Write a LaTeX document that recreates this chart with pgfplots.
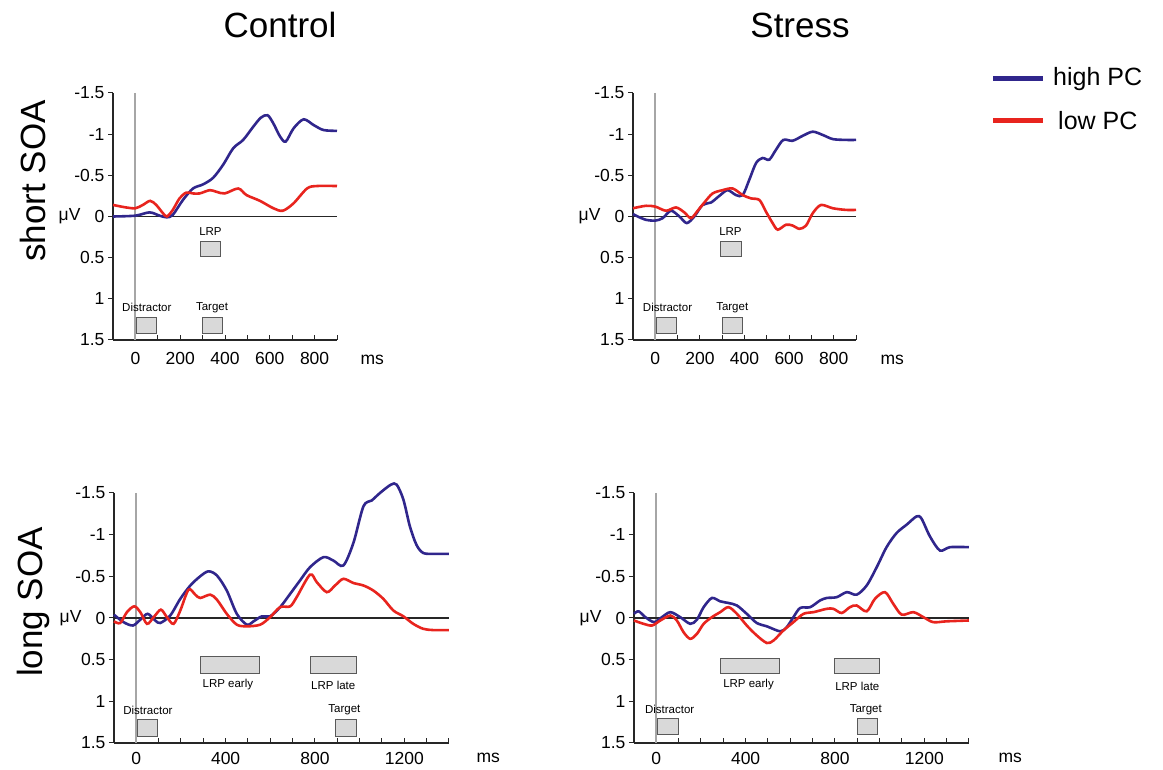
\documentclass[border=0pt]{standalone}
\usepackage{pgfplots}
\pgfplotsset{compat=1.18}
\usepackage{fontspec}
\setmainfont{Liberation Sans}
\definecolor{hiblue}{RGB}{48,38,140}
\definecolor{lored}{RGB}{232,36,30}
\tikzset{evbox/.style={draw=black!65, fill=black!15, line width=0.8pt},
  evlab/.style={font=\fontsize{11.5}{13}\selectfont, inner sep=0pt}}
\pgfplotsset{
  eeg/.style={
    scale only axis, y dir=reverse, ymin=-1.5, ymax=1.5, xmin=-100,
    axis x line*=bottom, axis y line*=left,
    ytick={-1.5,-1,-0.5,0,0.5,1,1.5},
    yticklabels={-1.5,-1,-0.5,0,0.5,1,1.5},
    xtick align=inside, ytick align=outside,
    major tick length=5pt,
    tick style={black!85, line width=1pt},
    axis line style={line width=1.2pt, black!85},
    tick label style={font=\fontsize{17.5}{20}\selectfont},
    anchor=origin, clip=false,
  },
  hi/.style={hiblue, line width=2.6pt, smooth, no markers},
  lo/.style={lored, line width=2.6pt, smooth, no markers},
}
\begin{document}
\begin{tikzpicture}
\useasboundingbox (0,0) rectangle (1163pt,770pt);
% titles
\node[font=\fontsize{35}{40}\selectfont] at (280pt,745pt) {Control};
\node[font=\fontsize{35}{40}\selectfont] at (800pt,745pt) {Stress};
\node[font=\fontsize{35}{40}\selectfont, rotate=90] at (33pt,589pt) {short SOA};
\node[font=\fontsize{35}{40}\selectfont, rotate=90] at (33pt,168pt) {long SOA};
% legend
\draw[hiblue, line width=5pt] (993pt,691pt) -- (1043pt,691pt);
\node[anchor=west, font=\fontsize{25}{28}\selectfont, inner sep=0pt] at (1053pt,691pt) {high PC};
\draw[lored, line width=5pt] (993pt,649pt) -- (1043pt,649pt);
\node[anchor=west, font=\fontsize{25}{28}\selectfont, inner sep=0pt] at (1058pt,649pt) {low PC};

% ---------- Control short SOA
\begin{axis}[eeg, at={(135.4pt,553.5pt)}, width=224pt, height=247pt, xmax=900,
  xtick={0,100,...,900}, xticklabels={0,,200,,400,,600,,800,},
  xticklabel style={yshift=-9pt}]
\draw[black!35, line width=2pt] (axis cs:0,-1.5) -- (axis cs:0,1.5);
\draw[black!85, line width=1.2pt] (axis cs:-100,0) -- (axis cs:900,0);
\draw[evbox] (axis cs:290,0.30) rectangle (axis cs:380,0.49);
\node[evlab] at (axis cs:335,0.18) {LRP};
\draw[evbox] (axis cs:3,1.23) rectangle (axis cs:93,1.42);
\node[evlab] at (axis cs:51,1.11) {Distractor};
\draw[evbox] (axis cs:300,1.23) rectangle (axis cs:390,1.42);
\node[evlab] at (axis cs:342,1.11) {Target};
\node[anchor=east, font=\fontsize{17.5}{20}\selectfont, xshift=-29pt] at (axis cs:-100,0) {μV};
\node[anchor=west, font=\fontsize{17.5}{20}\selectfont, xshift=20pt, yshift=-20pt] at (axis cs:900,1.5) {ms};
\addplot[hi] coordinates {(-100,0) (0,-0.01) (63,-0.05) (108,-0.01) (140,0.01) (167,-0.02) (212,-0.2) (257,-0.34) (302,-0.39) (347,-0.47) (392,-0.63) (437,-0.83) (481,-0.93) (526,-1.09) (560,-1.2) (590,-1.23) (616,-1.13) (646,-0.97) (671,-0.91) (706,-1.07) (751,-1.18) (796,-1.11) (840,-1.05) (900,-1.04)};
\addplot[lo] coordinates {(-100,-0.14) (-42,-0.11) (0,-0.10) (33,-0.14) (66,-0.19) (93,-0.14) (123,-0.04) (141,0) (167,-0.08) (197,-0.22) (227,-0.29) (257,-0.28) (287,-0.28) (332,-0.32) (362,-0.30) (399,-0.28) (459,-0.34) (496,-0.26) (556,-0.19) (616,-0.10) (658,-0.07) (706,-0.16) (766,-0.34) (810,-0.37) (900,-0.37)};
\end{axis}

% ---------- Stress short SOA
\begin{axis}[eeg, at={(655.3pt,553.5pt)}, width=223pt, height=247pt, xmax=900,
  xtick={0,100,...,900}, xticklabels={0,,200,,400,,600,,800,},
  xticklabel style={yshift=-9pt}]
\draw[black!35, line width=2pt] (axis cs:0,-1.5) -- (axis cs:0,1.5);
\draw[black!85, line width=1.2pt] (axis cs:-100,0) -- (axis cs:900,0);
\draw[evbox] (axis cs:290,0.30) rectangle (axis cs:384,0.49);
\node[evlab] at (axis cs:337,0.18) {LRP};
\draw[evbox] (axis cs:4,1.23) rectangle (axis cs:96,1.42);
\node[evlab] at (axis cs:55,1.11) {Distractor};
\draw[evbox] (axis cs:302,1.23) rectangle (axis cs:392,1.42);
\node[evlab] at (axis cs:345,1.11) {Target};
\node[anchor=east, font=\fontsize{17.5}{20}\selectfont, xshift=-29pt] at (axis cs:-100,0) {μV};
\node[anchor=west, font=\fontsize{17.5}{20}\selectfont, xshift=21pt, yshift=-20pt] at (axis cs:900,1.5) {ms};
\addplot[hi] coordinates {(-100,-0.03) (-79,0) (-42,0.04) (0,0.05) (33,0.02) (70,-0.07) (108,0) (141,0.08) (175,0) (212,-0.14) (250,-0.17) (287,-0.25) (324,-0.32) (362,-0.26) (392,-0.26) (422,-0.45) (452,-0.65) (481,-0.71) (511,-0.69) (541,-0.81) (574,-0.93) (616,-0.92) (661,-0.98) (706,-1.03) (751,-0.99) (796,-0.94) (855,-0.93) (900,-0.93)};
\addplot[lo] coordinates {(-100,-0.10) (-42,-0.13) (0,-0.12) (48,-0.07) (93,-0.11) (130,-0.05) (160,0.02) (190,-0.07) (220,-0.17) (257,-0.28) (302,-0.32) (347,-0.34) (392,-0.26) (429,-0.22) (467,-0.20) (496,-0.06) (526,0.08) (549,0.16) (586,0.10) (616,0.11) (646,0.15) (676,0.11) (706,-0.04) (743,-0.14) (796,-0.10) (855,-0.08) (900,-0.08)};
\end{axis}

% ---------- Control long SOA
\begin{axis}[eeg, at={(136.3pt,152pt)}, width=335pt, height=250pt, xmax=1400,
  xtick={0,100,...,1400}, xticklabels={0,,,,400,,,,800,,,,1200,,},
  xticklabel style={yshift=-6pt}]
\draw[black!35, line width=2pt] (axis cs:0,-1.5) -- (axis cs:0,1.5);
\draw[black!85, line width=1.2pt] (axis cs:-100,0) -- (axis cs:1400,0);
\draw[evbox] (axis cs:287,0.46) rectangle (axis cs:550,0.66);
\node[evlab] at (axis cs:410,0.80) {LRP early};
\draw[evbox] (axis cs:781,0.46) rectangle (axis cs:985,0.66);
\node[evlab] at (axis cs:882,0.81) {LRP late};
\draw[evbox] (axis cs:3,1.22) rectangle (axis cs:95,1.415);
\node[evlab] at (axis cs:52,1.11) {Distractor};
\draw[evbox] (axis cs:891,1.22) rectangle (axis cs:985,1.415);
\node[evlab] at (axis cs:932,1.10) {Target};
\node[anchor=east, font=\fontsize{17.5}{20}\selectfont, xshift=-29pt] at (axis cs:-100,0) {μV};
\node[anchor=west, font=\fontsize{17.5}{20}\selectfont, xshift=24pt, yshift=-15pt] at (axis cs:1400,1.5) {ms};
\addplot[hi] coordinates {(-100,-0.04) (-57,0.05) (-15,0.09) (18,0.02) (51,-0.05) (85,0.03) (107,0.06) (152,-0.03) (197,-0.23) (242,-0.39) (286,-0.50) (323,-0.56) (361,-0.51) (405,-0.33) (450,-0.05) (495,0.08) (525,0.04) (562,-0.02) (599,-0.02) (644,-0.13) (689,-0.29) (733,-0.45) (778,-0.61) (838,-0.73) (882,-0.69) (927,-0.63) (972,-0.90) (1017,-1.34) (1054,-1.41) (1091,-1.50) (1140,-1.60) (1166,-1.60) (1196,-1.42) (1225,-1.10) (1255,-0.875) (1285,-0.78) (1330,-0.77) (1400,-0.77)};
\addplot[lo] coordinates {(-100,0.04) (-72,0.06) (-42,-0.07) (-9,-0.14) (18,-0.07) (48,0.07) (78,-0.01) (110,-0.10) (137,-0.01) (167,0.07) (197,-0.09) (234,-0.34) (264,-0.28) (286,-0.24) (331,-0.28) (361,-0.22) (405,-0.05) (450,0.08) (495,0.10) (555,0.08) (599,-0.01) (644,-0.13) (689,-0.14) (718,-0.25) (778,-0.52) (808,-0.43) (853,-0.31) (890,-0.39) (927,-0.47) (972,-0.42) (1017,-0.39) (1061,-0.33) (1106,-0.23) (1151,-0.09) (1196,-0.02) (1240,0.07) (1285,0.13) (1330,0.145) (1400,0.145)};
\end{axis}

% ---------- Stress long SOA
\begin{axis}[eeg, at={(656.3pt,152pt)}, width=335pt, height=250pt, xmax=1400,
  xtick={0,100,...,1400}, xticklabels={0,,,,400,,,,800,,,,1200,,},
  xticklabel style={yshift=-6pt}]
\draw[black!35, line width=2pt] (axis cs:0,-1.5) -- (axis cs:0,1.5);
\draw[black!85, line width=1.2pt] (axis cs:-100,0) -- (axis cs:1400,0);
\draw[evbox] (axis cs:289,0.48) rectangle (axis cs:550,0.665);
\node[evlab] at (axis cs:413,0.80) {LRP early};
\draw[evbox] (axis cs:797,0.48) rectangle (axis cs:1000,0.665);
\node[evlab] at (axis cs:900,0.82) {LRP late};
\draw[evbox] (axis cs:7,1.21) rectangle (axis cs:100,1.40);
\node[evlab] at (axis cs:60,1.10) {Distractor};
\draw[evbox] (axis cs:899,1.21) rectangle (axis cs:991,1.40);
\node[evlab] at (axis cs:938,1.10) {Target};
\node[anchor=east, font=\fontsize{17.5}{20}\selectfont, xshift=-29pt] at (axis cs:-100,0) {μV};
\node[anchor=west, font=\fontsize{17.5}{20}\selectfont, xshift=26pt, yshift=-15pt] at (axis cs:1400,1.5) {ms};
\addplot[hi] coordinates {(-100,-0.05) (-79,-0.08) (-49,-0.01) (-9,0.05) (25,-0.01) (63,-0.07) (107,-0.01) (152,0.07) (182,0.02) (212,-0.13) (249,-0.24) (286,-0.20) (323,-0.18) (361,-0.15) (405,-0.05) (450,0.06) (495,0.10) (555,0.16) (584,0.11) (614,-0.01) (644,-0.12) (689,-0.13) (733,-0.21) (763,-0.24) (808,-0.25) (853,-0.31) (897,-0.28) (942,-0.39) (987,-0.61) (1031,-0.85) (1076,-1.02) (1121,-1.12) (1166,-1.22) (1188,-1.19) (1225,-0.98) (1270,-0.81) (1315,-0.85) (1400,-0.85)};
\addplot[lo] coordinates {(-100,0.03) (-57,0.07) (-19,0.09) (18,0.03) (63,-0.03) (92,0.03) (122,0.17) (152,0.25) (182,0.19) (212,0.07) (249,-0.01) (286,-0.07) (323,-0.13) (361,-0.05) (405,0.09) (450,0.21) (495,0.30) (525,0.27) (569,0.15) (614,0.05) (659,-0.05) (704,-0.07) (763,-0.11) (793,-0.11) (830,-0.06) (867,-0.13) (897,-0.15) (942,-0.08) (979,-0.23) (1024,-0.31) (1061,-0.17) (1099,-0.04) (1151,-0.07) (1196,-0.01) (1240,0.05) (1300,0.04) (1400,0.03)};
\end{axis}
\end{tikzpicture}
\end{document}
